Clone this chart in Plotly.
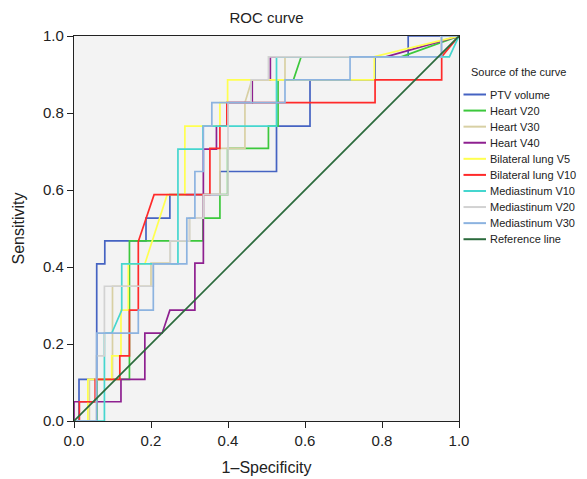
import plotly.graph_objects as go

# ---- data ----
series_names = ["PTV volume", "Heart V20", "Heart V30", "Heart V40", "Bilateral lung V5",
                "Bilateral lung V10", "Mediastinum V10", "Mediastinum V20", "Mediastinum V30",
                "Reference line"]

ptv_x = [0, 0.013, 0.013, 0.059, 0.059, 0.08, 0.08, 0.187, 0.187, 0.249, 0.249, 0.379, 0.379,
         0.526, 0.526, 0.613, 0.613, 0.782, 0.782, 0.868, 0.868, 1.0]
ptv_y = [0, 0, 0.108, 0.108, 0.408, 0.408, 0.468, 0.468, 0.527, 0.527, 0.588, 0.588, 0.648,
         0.648, 0.766, 0.766, 0.886, 0.886, 0.946, 0.946, 1.0, 1.0]

hv20_x = [0, 0.06, 0.06, 0.144, 0.144, 0.335, 0.335, 0.379, 0.379, 0.399, 0.399, 0.505, 0.505,
          0.53, 0.53, 0.57, 0.59, 0.85, 1.0]
hv20_y = [0, 0, 0.108, 0.108, 0.468, 0.468, 0.527, 0.527, 0.588, 0.588, 0.708, 0.708, 0.766,
          0.766, 0.886, 0.886, 0.946, 0.946, 1.0]

hv30_x = [0, 0.04, 0.04, 0.1, 0.1, 0.2, 0.2, 0.25, 0.25, 0.3, 0.3, 0.336, 0.336, 0.379, 0.379,
          0.444, 0.444, 0.462, 0.548, 0.548, 0.95, 1.0]
hv30_y = [0, 0, 0.108, 0.108, 0.35, 0.35, 0.41, 0.41, 0.468, 0.468, 0.527, 0.527, 0.589, 0.589,
          0.708, 0.708, 0.827, 0.886, 0.886, 0.946, 0.946, 1.0]

hv40_x = [0, 0, 0.122, 0.122, 0.184, 0.184, 0.229, 0.249, 0.314, 0.314, 0.336, 0.336, 0.37,
          0.37, 0.399, 0.399, 0.463, 0.463, 0.51, 0.51, 0.81, 1.0]
hv40_y = [0, 0.05, 0.05, 0.108, 0.108, 0.228, 0.228, 0.288, 0.288, 0.41, 0.41, 0.706, 0.706,
          0.766, 0.766, 0.827, 0.827, 0.886, 0.886, 0.946, 0.946, 1.0]

blv5_x = [0, 0.036, 0.036, 0.098, 0.098, 0.122, 0.122, 0.141, 0.141, 0.184, 0.242, 0.288,
          0.288, 0.379, 0.379, 0.399, 0.399, 0.78, 0.78, 1.0]
blv5_y = [0, 0, 0.108, 0.108, 0.169, 0.169, 0.288, 0.288, 0.408, 0.408, 0.588, 0.588,
          0.766, 0.766, 0.827, 0.827, 0.886, 0.886, 0.946, 1.0]

blv10_x = [0, 0.014, 0.014, 0.055, 0.055, 0.119, 0.119, 0.144, 0.144, 0.167, 0.167, 0.187,
           0.208, 0.353, 0.353, 0.379, 0.379, 0.397, 0.397, 0.782, 0.782, 0.955, 0.955, 1.0]
blv10_y = [0, 0, 0.05, 0.05, 0.108, 0.108, 0.169, 0.169, 0.288, 0.288, 0.466, 0.527,
           0.588, 0.588, 0.708, 0.708, 0.766, 0.766, 0.827, 0.827, 0.886, 0.886, 0.946, 1.0]

mv10_x = [0, 0.079, 0.079, 0.098, 0.124, 0.124, 0.27, 0.27, 0.335, 0.335, 0.526, 0.526,
          0.975, 1.0]
mv10_y = [0, 0, 0.228, 0.228, 0.288, 0.408, 0.408, 0.706, 0.706, 0.766, 0.766, 0.946,
          0.946, 1.0]

mv20_x = [0, 0.058, 0.058, 0.079, 0.079, 0.206, 0.206, 0.25, 0.25, 0.3, 0.3, 0.336, 0.336,
          0.4, 0.4, 0.46, 0.46, 0.505, 0.505, 0.953, 0.953, 1.0]
mv20_y = [0, 0, 0.169, 0.169, 0.35, 0.35, 0.408, 0.408, 0.468, 0.468, 0.527, 0.527, 0.588,
          0.588, 0.827, 0.827, 0.886, 0.886, 0.946, 0.946, 1.0, 1.0]

mv30_x = [0, 0.059, 0.059, 0.167, 0.167, 0.206, 0.206, 0.293, 0.293, 0.314, 0.314, 0.336,
          0.336, 0.358, 0.358, 0.548, 0.548, 0.717, 0.717, 0.955, 0.955, 1.0]
mv30_y = [0, 0, 0.228, 0.228, 0.288, 0.288, 0.408, 0.408, 0.527, 0.527, 0.648, 0.648,
          0.766, 0.766, 0.827, 0.827, 0.886, 0.886, 0.946, 0.946, 1.0, 1.0]

ref_x = [0, 1]
ref_y = [0, 1]

tick_vals = [0.0, 0.2, 0.4, 0.6, 0.8, 1.0]
tick_text = ["0.0", "0.2", "0.4", "0.6", "0.8", "1.0"]
legend_title = "Source of the curve"

xs = [ptv_x, hv20_x, hv30_x, hv40_x, blv5_x, blv10_x, mv10_x, mv20_x, mv30_x, ref_x]
ys = [ptv_y, hv20_y, hv30_y, hv40_y, blv5_y, blv10_y, mv10_y, mv20_y, mv30_y, ref_y]
colors = ["#4563c2", "#3cc83c", "#d8d0a4", "#8e2090", "#ffff50", "#ff2a2a",
          "#45d6cf", "#d2d2d2", "#8cb3e0", "#2b6a3c"]

# The page puts the figure 8px in from the top-left corner (default body margin).
OFF = 8
W, H = 587, 479
# target plot box in page pixels: x 74..459, y 36..421
L = 74 - OFF
T = 36 - OFF
R = W - (459 - OFF)
B = H - (421 - OFF)
PW, PH = W - L - R, H - T - B

fig = go.Figure()
for name, x, y, c in zip(series_names, xs, ys, colors):
    fig.add_trace(go.Scatter(x=x, y=y, mode="lines", name=name, showlegend=False,
                             line=dict(color=c, width=1.7)))

# compact legend (line samples + labels); page-pixel positions -> paper coordinates
def px_to_paper(px, py):
    return (px - OFF - L) / PW, (H - B - (py - OFF)) / PH

shapes, annotations = [], []
tx, ty = px_to_paper(469, 72)
annotations.append(dict(text=legend_title, x=tx, y=ty, xref="paper", yref="paper",
                        xanchor="left", yanchor="middle", showarrow=False,
                        font=dict(size=11, color="#222")))
for i, (name, c) in enumerate(zip(series_names, colors)):
    py = 94.5 + i * 16.08
    x0, yy = px_to_paper(463.5, py)
    x1, _ = px_to_paper(486, py)
    xt, _ = px_to_paper(488, py)
    shapes.append(dict(type="line", xref="paper", yref="paper", x0=x0, x1=x1, y0=yy, y1=yy,
                       line=dict(color=c, width=2)))
    annotations.append(dict(text=name, x=xt, y=yy, xref="paper", yref="paper",
                            xanchor="left", yanchor="middle", showarrow=False,
                            font=dict(size=11, color="#222")))

font_family = "Liberation Sans, Arial, sans-serif"
fig.update_layout(
    width=W, height=H,
    margin=dict(l=L, r=R, t=T, b=B, autoexpand=False),
    paper_bgcolor="white",
    plot_bgcolor="#f3f3f3",
    font=dict(family=font_family, size=14, color="#222"),
    title=dict(text="ROC curve", x=0.5, xref="paper", xanchor="center",
               y=1 - (18 - OFF) / H, yref="container", yanchor="middle",
               font=dict(size=15, color="#222")),
    showlegend=False,
    shapes=shapes,
    annotations=annotations,
)
fig.update_xaxes(range=[0, 1], tickvals=tick_vals, ticktext=tick_text, automargin=False,
                 showline=True, linecolor="#222", linewidth=1.2, mirror=True,
                 ticks="outside", ticklen=6, tickcolor="#222", showgrid=False,
                 zeroline=False, tickfont=dict(size=15),
                 title=dict(text="1–Specificity", font=dict(size=16), standoff=13))
fig.update_yaxes(range=[0, 1], tickvals=tick_vals, ticktext=tick_text, automargin=False,
                 showline=True, linecolor="#222", linewidth=1.2, mirror=True,
                 ticks="outside", ticklen=6, tickcolor="#222", showgrid=False,
                 zeroline=False, tickfont=dict(size=15),
                 title=dict(text="Sensitivity", font=dict(size=16), standoff=14))

fig.write_html("out.html")
